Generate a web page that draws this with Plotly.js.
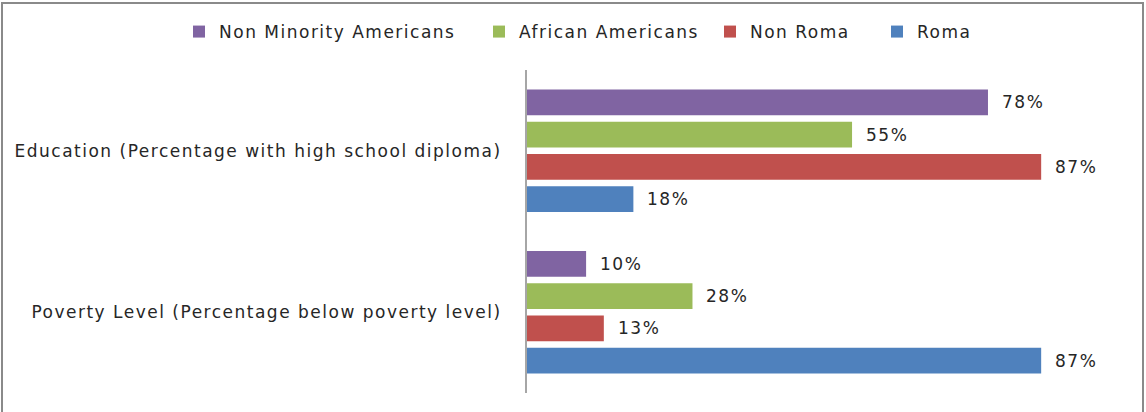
<!DOCTYPE html>
<html>
<head>
<meta charset="utf-8">
<script src="https://cdn.plot.ly/plotly-3.0.1.min.js"></script>
<style>
  html, body { margin: 0; padding: 0; background: #fff; }
  #wrap { position: relative; width: 1146px; height: 412px; }
  #chart { width: 1146px; height: 412px; }
  #frame { position: absolute; left: 1px; top: 2px; width: 1143px; height: 420px;
           border-top: 2px solid #8a8a8a; border-left: 2px solid #8a8a8a; border-right: 2px solid #8a8a8a;
           box-sizing: border-box; pointer-events: none; }
  svg text { letter-spacing: 1.5px; }
</style>
</head>
<body>
<div id="wrap"><div id="chart"></div><div id="frame"></div></div>
<script>
const categories = ["Education (Percentage with high school diploma)", "Poverty Level (Percentage below poverty level)"];
const seriesNames = ["Non Minority Americans", "African Americans", "Non Roma", "Roma"];
const nonMinorityAmericans = [78, 10];
const africanAmericans = [55, 28];
const nonRoma = [87, 13];
const roma = [18, 87];
const seriesValues = [nonMinorityAmericans, africanAmericans, nonRoma, roma];
const colors = ["#8064A2", "#9BBB59", "#C0504D", "#4F81BD"];
// horizontal placement of each legend entry (paper fraction)
const legendX = [-0.5888, -0.0812, 0.3096, 0.5922];

const font = "'DejaVu Sans', sans-serif";
const txtColor = "#262626";
const legendIds = ["legend", "legend2", "legend3", "legend4"];

const traces = seriesNames.map((name, i) => ({
  type: "bar",
  orientation: "h",
  name: name,
  y: categories,
  x: seriesValues[i],
  marker: { color: colors[i] },
  text: seriesValues[i].map(v => v + "%"),
  textposition: "none",
  hoverinfo: "x+name",
  legend: legendIds[i]
}));

const nS = seriesNames.length;
const bargap = 0.2;
const annotations = [];
seriesValues.forEach((vals, i) => {
  vals.forEach((v, j) => {
    const slot = (1 - bargap) / nS;
    const off = -(1 - bargap) / 2 + slot * (i + 0.5);
    annotations.push({
      x: v, y: j + off, xref: "x", yref: "y",
      text: v + "%", showarrow: false, xanchor: "left", yanchor: "middle",
      xshift: 12, font: { family: font, size: 17, color: txtColor }
    });
  });
});

const layout = {
  width: 1146, height: 412,
  margin: { l: 527, r: 28, t: 70, b: 19, autoexpand: false },
  paper_bgcolor: "#fff", plot_bgcolor: "#fff",
  barmode: "group", bargap: bargap, bargroupgap: 0.2,
  font: { family: font, size: 17, color: txtColor },
  xaxis: { range: [0, 100], visible: false, showgrid: false, zeroline: false, fixedrange: true },
  yaxis: {
    type: "category", autorange: "reversed",
    showline: true, linecolor: "#a6a6a6", linewidth: 2,
    ticks: "", ticklabelstandoff: 20, showgrid: false, zeroline: false,
    tickfont: { family: font, size: 17, color: txtColor }
  },
  showlegend: true,
  annotations: annotations
};
legendIds.forEach((id, i) => {
  layout[id] = {
    orientation: "h", xref: "paper", yref: "paper",
    x: legendX[i], xanchor: "left", y: 1.1176, yanchor: "middle",
    font: { family: font, size: 17, color: txtColor },
    itemwidth: 30, bgcolor: "rgba(0,0,0,0)"
  };
});

Plotly.newPlot("chart", traces, layout, { displayModeBar: false, staticPlot: true });
</script>
</body>
</html>
